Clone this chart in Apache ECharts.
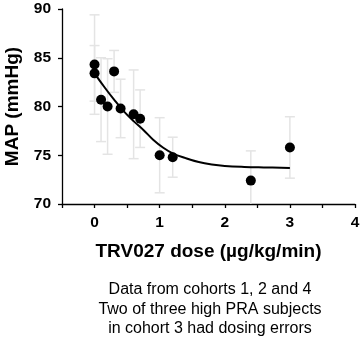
<!DOCTYPE html>
<html>
<head>
<meta charset="utf-8">
<script src="https://cdn.jsdelivr.net/npm/echarts@6/dist/echarts.min.js"></script>
<style>
html,body{margin:0;padding:0;background:#fff;}
#c{width:360px;height:337px;}
</style>
</head>
<body>
<div id="c"></div>
<script>
// Observed data (dose, mean MAP, error half-width)
var doses = [0, 0, 0.1, 0.2, 0.3, 0.4, 0.6, 0.7, 1.0, 1.2, 2.4, 3.0];
var mapValues = [84.3, 83.4, 80.7, 80.0, 83.6, 79.8, 79.2, 78.75, 75.0, 74.8, 72.4, 75.8];
var errHalf = [5.1, 2.85, 4.3, 4.9, 2.15, 3.0, 4.55, 2.95, 3.85, 2.05, 3.05, 3.15];
// Fitted curve
var fitX = [0, 0.15, 0.3, 0.45, 0.6, 0.75, 0.9, 1.05, 1.2, 1.4, 1.6, 1.8, 2.0, 2.3, 2.6, 3.0];
var fitY = [83.4, 82.0, 80.7, 79.5, 78.5, 77.6, 76.6, 75.8, 75.2, 74.7, 74.3, 74.05, 73.9, 73.8, 73.75, 73.7];
var xTickLabels = ['0', '1', '2', '3', '4'];
var yTickLabels = ['70', '75', '80', '85', '90'];
var captionLines = ['Data from cohorts 1, 2 and 4', 'Two of three high PRA subjects', 'in cohort 3 had dosing errors'];

var font = '"Liberation Sans", Arial, sans-serif';
var points = doses.map(function (d, i) { return [d, mapValues[i]]; });
var bars = doses.map(function (d, i) { return [d, mapValues[i] - errHalf[i], mapValues[i] + errHalf[i]]; });
var fit = fitX.map(function (x, i) { return [x, fitY[i]]; });

var chart = echarts.init(document.getElementById('c'), null, {renderer: 'canvas'});
chart.setOption({
  animation: false,
  backgroundColor: '#fff',
  grid: {left: 62, right: 5, top: 9, bottom: 133, containLabel: false, outerBoundsMode: 'none'},
  xAxis: {
    type: 'value', min: -0.5, max: 4, interval: 0.5,
    name: 'TRV027 dose (\u00b5g/kg/min)', nameLocation: 'middle', nameGap: 38,
    nameTextStyle: {fontFamily: font, fontWeight: 'bold', fontSize: 19, color: '#000'},
    axisLine: {onZero: false, lineStyle: {color: '#000', width: 1.3}},
    axisTick: {length: 4, lineStyle: {color: '#000', width: 1.3}},
    axisLabel: {
      margin: 11, fontFamily: font, fontWeight: 'bold', fontSize: 15.5, color: '#000',
      formatter: function (v) { var s = String(v); return xTickLabels.indexOf(s) >= 0 ? s : ''; }
    },
    splitLine: {show: false}
  },
  yAxis: {
    type: 'value', min: 70, max: 90, interval: 5,
    name: 'MAP (mmHg)', nameLocation: 'middle', nameGap: 40,
    nameTextStyle: {fontFamily: font, fontWeight: 'bold', fontSize: 19, color: '#000'},
    axisLine: {show: true, onZero: false, lineStyle: {color: '#000', width: 1.3}},
    axisTick: {show: true, length: 4, lineStyle: {color: '#000', width: 1.3}},
    axisLabel: {
      margin: 11, fontFamily: font, fontWeight: 'bold', fontSize: 15.5, color: '#000',
      formatter: function (v) { var s = String(v); return yTickLabels.indexOf(s) >= 0 ? s : ''; }
    },
    splitLine: {show: false}
  },
  graphic: captionLines.map(function (t, i) {
    return {
      type: 'text', x: 210, y: 290 + i * 19.5,
      style: {text: t, fontFamily: font, fontSize: 16, fill: '#000', textAlign: 'center', textVerticalAlign: 'middle'}
    };
  }),
  series: [
    {
      type: 'custom', z: 1, clip: true,
      renderItem: function (params, api) {
        var x = api.value(0);
        var lo = api.coord([x, api.value(1)]);
        var hi = api.coord([x, api.value(2)]);
        var hw = 5;
        var st = {stroke: '#e4e4e4', lineWidth: 1.5, fill: null};
        return {
          type: 'group', children: [
            {type: 'line', shape: {x1: hi[0], y1: hi[1], x2: lo[0], y2: lo[1]}, style: st},
            {type: 'line', shape: {x1: hi[0] - hw, y1: hi[1], x2: hi[0] + hw, y2: hi[1]}, style: st},
            {type: 'line', shape: {x1: lo[0] - hw, y1: lo[1], x2: lo[0] + hw, y2: lo[1]}, style: st}
          ]
        };
      },
      encode: {x: 0, y: [1, 2]},
      data: bars
    },
    {
      type: 'line', z: 3, data: fit, smooth: 0.4, showSymbol: false, symbol: 'none',
      lineStyle: {color: '#000', width: 2}
    },
    {
      type: 'scatter', z: 4, data: points, symbol: 'circle', symbolSize: 10,
      itemStyle: {color: '#000', opacity: 1}
    }
  ]
});
</script>
</body>
</html>
